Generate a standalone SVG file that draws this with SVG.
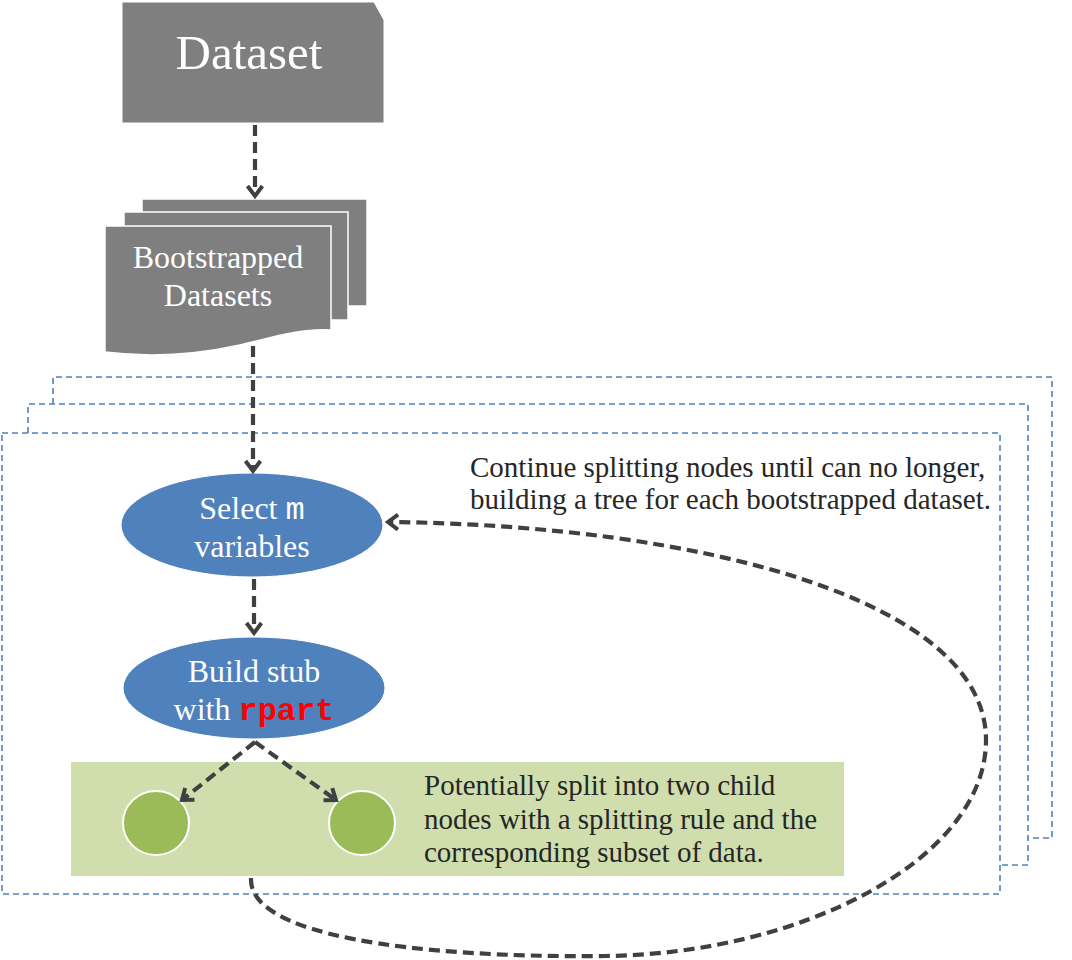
<svg xmlns="http://www.w3.org/2000/svg" width="1072" height="960" viewBox="0 0 1072 960">
<style>
.frame{fill:none;stroke:#4f81bd;stroke-width:1.6;stroke-dasharray:6 4}
.conn{fill:none;stroke:#404040;stroke-width:4.2;stroke-dasharray:11 6}
.sheet{fill:#7f7f7f;stroke:#ffffff;stroke-width:1.5}
.wt{font-family:"Liberation Serif","Times New Roman",serif;fill:#ffffff;text-anchor:middle}
.dt{font-family:"Liberation Serif","Times New Roman",serif;fill:#262626;font-size:29px}
.mono{font-family:"Liberation Mono","Courier New",monospace}
</style>
<defs>
<marker id="arr" markerUnits="userSpaceOnUse" markerWidth="24" markerHeight="24" refX="12" refY="9" orient="auto">
<path d="M2,1.5 L12,9 L2,16.5" fill="none" stroke="#404040" stroke-width="4" stroke-linejoin="miter"/>
</marker>
</defs>
<rect width="1072" height="960" fill="#ffffff"/>
<g id="frames">
<polyline class="frame" points="53,404 53,377 1052,377 1052,838 1028,838"/>
<polyline class="frame" points="28,433 28,404 1028,404 1028,865 1000,865"/>
<rect class="frame" x="2" y="433" width="998" height="461"/>
</g>
<g id="dataset">
<path d="M122,2 H374 L384,20 V123 H122 Z" fill="#7f7f7f" stroke="#ffffff" stroke-width="1"/>
<text class="wt" x="249" y="69" font-size="49">Dataset</text>
</g>
<g id="bootstrapped">
<rect class="sheet" x="142" y="199" width="225" height="107"/>
<rect class="sheet" x="124" y="212" width="224" height="108"/>
<path class="sheet" d="M105,226 H331 V330 C300,328 270,338 240,345 C190,356 145,357 105,352 Z"/>
<text class="wt" x="218" y="268" font-size="32">Bootstrapped</text>
<text class="wt" x="218" y="306" font-size="32">Datasets</text>
</g>
<g id="green-area">
<rect x="71" y="762" width="773" height="114" fill="#d0deae"/>
<text class="dt" x="424" y="795">Potentially split into two child</text>
<text class="dt" x="424" y="829">nodes with a splitting rule and the</text>
<text class="dt" x="424" y="862">corresponding subset of data.</text>
</g>
<g id="child-left">
<ellipse cx="156" cy="823" rx="33" ry="32" fill="#9bbb59" stroke="#ffffff" stroke-width="2"/>
</g>
<g id="child-right">
<ellipse cx="362" cy="823" rx="33" ry="32" fill="#9bbb59" stroke="#ffffff" stroke-width="2"/>
</g>
<g id="select">
<ellipse cx="252" cy="525" rx="131" ry="52" fill="#4f81bd" stroke="#ffffff" stroke-width="1"/>
<text class="wt" x="252" y="519" font-size="32">Select <tspan class="mono">m</tspan></text>
<text class="wt" x="252" y="557" font-size="32">variables</text>
</g>
<g id="build">
<ellipse cx="254" cy="688" rx="131" ry="51" fill="#4f81bd" stroke="#ffffff" stroke-width="1"/>
<text class="wt" x="254" y="682" font-size="32">Build stub</text>
<text class="wt" x="254" y="720" font-size="32">with <tspan class="mono" fill="#ff0000" font-weight="bold">rpart</tspan></text>
</g>
<g id="loop-label">
<text class="dt" x="470" y="477">Continue splitting nodes until can no longer,</text>
<text class="dt" x="470" y="509">building a tree for each bootstrapped dataset.</text>
</g>
<g id="connectors">
<line class="conn" x1="255" y1="125" x2="255" y2="196" marker-end="url(#arr)"/>
<line class="conn" x1="253" y1="346" x2="253" y2="471" marker-end="url(#arr)"/>
<line class="conn" x1="254" y1="579" x2="254" y2="633" marker-end="url(#arr)"/>
<line class="conn" x1="255" y1="742" x2="182" y2="800" marker-end="url(#arr)"/>
<line class="conn" x1="255" y1="742" x2="336" y2="800" marker-end="url(#arr)"/>
<path class="conn" d="M251,878 C248,935 410,958 605,956 C800,954 986,860 986,740 C986,600 700,525 388,522" marker-end="url(#arr)"/>
</g>
</svg>
